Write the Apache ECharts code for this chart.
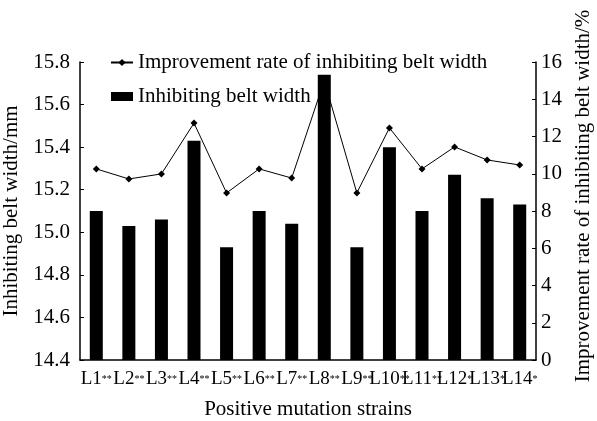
<!DOCTYPE html>
<html>
<head>
<meta charset="utf-8">
<script src="https://cdn.jsdelivr.net/npm/echarts@6/dist/echarts.min.js"></script>
<style>
    html, body {margin: 0; padding: 0; background: #fff;}
    #chart {width: 597px; height: 421px;}
</style>
</head>
<body>
<div id="chart"></div>
<script>
var strains = ['L1**', 'L2**', 'L3**', 'L4**', 'L5**', 'L6**', 'L7**', 'L8**', 'L9**', 'L10**', 'L11**', 'L12*', 'L13*', 'L14*'];
var beltWidth = [15.10, 15.03, 15.06, 15.43, 14.93, 15.10, 15.04, 15.74, 14.93, 15.40, 15.10, 15.27, 15.16, 15.13];
var improveRate = [10.26, 9.72, 9.99, 12.72, 8.97, 10.26, 9.77, 15.0, 8.97, 12.46, 10.26, 11.44, 10.74, 10.47];
var leftTicks = {min: 14.4, max: 15.8, interval: 0.2};
var rightTicks = {min: 0, max: 16, interval: 2};

var font = 'Liberation Serif';

function Belt_chart() {
    var mychart = echarts.init(document.getElementById('chart'));

    var option = {
        animation: false,
        textStyle: {fontFamily: font, color: '#000'},
        grid: {left: 80, right: 61, top: 62, bottom: 61, outerBoundsMode: 'none', containLabel: false},
        legend: {
            orient: 'vertical',
            left: 105,
            top: 47,
            itemWidth: 22,
            itemHeight: 9,
            itemGap: 13,
            data: [
                {name: 'Improvement rate of inhibiting belt width'},
                {name: 'Inhibiting belt width', icon: 'rect'}
            ],
            textStyle: {fontFamily: font, fontSize: 21, color: '#000'}
        },
        xAxis: {
            type: 'category',
            data: strains,
            name: 'Positive mutation strains',
            nameLocation: 'middle',
            nameGap: 39,
            nameTextStyle: {fontFamily: font, fontSize: 21, color: '#000'},
            axisLine: {lineStyle: {color: '#000', width: 1.5}},
            axisTick: {inside: true, length: 4, lineStyle: {color: '#000'}},
            axisLabel: {
                interval: 0,
                margin: 10,
                formatter: function (v) {
                    var m = v.match(/^(L\d+)(\**)$/);
                    return '{a|' + m[1] + '}{b|' + m[2] + '}';
                },
                rich: {
                    a: {fontFamily: font, fontSize: 19, color: '#000'},
                    b: {fontFamily: font, fontSize: 10, color: '#000'}
                }
            }
        },
        yAxis: [
            {
                type: 'value',
                min: leftTicks.min,
                max: leftTicks.max,
                interval: leftTicks.interval,
                name: 'Inhibiting belt width/mm',
                nameLocation: 'middle',
                nameGap: 44,
                nameTextStyle: {fontFamily: font, fontSize: 21, color: '#000'},
                axisLine: {show: true, lineStyle: {color: '#000', width: 1.5}},
                axisTick: {show: true, inside: true, length: 4, lineStyle: {color: '#000'}},
                axisLabel: {
                    margin: 10,
                    fontFamily: font, fontSize: 21, color: '#000',
                    formatter: function (v) { return v.toFixed(1); }
                },
                splitLine: {show: false}
            },
            {
                type: 'value',
                min: rightTicks.min,
                max: rightTicks.max,
                interval: rightTicks.interval,
                name: 'Improvement rate of inhibiting belt width/%',
                nameLocation: 'middle',
                nameRotate: 90,
                nameGap: 33,
                nameTextStyle: {fontFamily: font, fontSize: 21, color: '#000', padding: [0, 0, 0, 30]},
                axisLine: {show: true, lineStyle: {color: '#000', width: 1.5}},
                axisTick: {show: true, inside: true, length: 4, lineStyle: {color: '#000'}},
                axisLabel: {margin: 5, fontFamily: font, fontSize: 21, color: '#000'},
                splitLine: {show: false}
            }
        ],
        series: [
            {
                name: 'Improvement rate of inhibiting belt width',
                type: 'line',
                yAxisIndex: 1,
                data: improveRate,
                symbol: 'diamond',
                symbolSize: 7,
                z: 2,
                lineStyle: {color: '#000', width: 1},
                itemStyle: {color: '#000'}
            },
            {
                name: 'Inhibiting belt width',
                type: 'bar',
                yAxisIndex: 0,
                data: beltWidth,
                barWidth: 13,
                z: 3,
                itemStyle: {color: '#000'}
            }
        ]
    };

    mychart.setOption(option);
}

Belt_chart();
</script>
</body>
</html>
